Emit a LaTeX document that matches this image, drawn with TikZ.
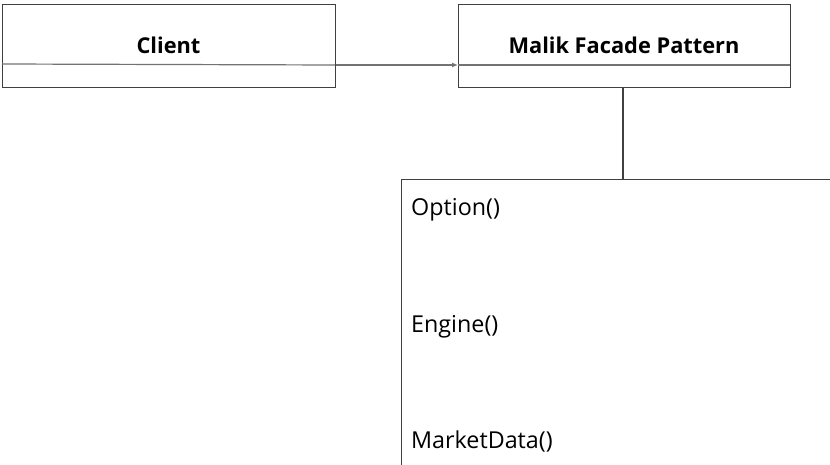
\documentclass[tikz,border=0pt]{standalone}
\usepackage{fontspec}
\setmainfont[Ligatures=CommonOff]{Open Sans}
\usetikzlibrary{arrows.meta}
\begin{document}
\begin{tikzpicture}[x=1pt,y=-1pt,
  box/.style={draw=black!75, line width=1.1pt, rectangle, inner sep=0pt, anchor=north west},
  divider/.style={draw=black!55, line width=1.2pt},
  link/.style={draw=black!55, line width=1.2pt},
  title/.style={font=\bfseries\fontsize{21.8}{26}\selectfont, anchor=base, inner sep=0pt},
  member/.style={font=\fontsize{23.3}{27}\selectfont, anchor=base west, inner sep=0pt}]
  \useasboundingbox (0,0) rectangle (830,465);
  \clip (0,0) rectangle (830,465);

  % class boxes
  \node[box, minimum width=333pt, minimum height=83pt] (client) at (2,4) {};
  \node[box, minimum width=332pt, minimum height=83pt] (facade) at (458,4) {};
  \node[title] (clientname) at (168.5,54) {Client};
  \node[title] (facadename) at (624,54) {Malik Facade Pattern};
  \draw[divider] (2,64) -- (335,65);
  \draw[divider] (458,65) -- (790,65);

  % association from client to facade
  \coordinate (clientport) at (client.east |- 0,65);
  \coordinate (facadeport) at (facade.west |- 0,65);
  \draw[link, -{Latex[length=6pt,width=5pt]}] (clientport) -- (facadeport);

  % subsystem operations box
  \node[box, minimum width=440pt, minimum height=300pt] (subsystem) at (401,179) {};
  \draw[draw=black!75, line width=1.1pt] (facade.south -| 623,0) -- (subsystem.north -| 623,0);

  \node[member] (option) at (411,215) {Option()};
  \node[member] (engine) at (411,332) {Engine()};
  \node[member] (market) at (411,448) {MarketData()};
\end{tikzpicture}
\end{document}
